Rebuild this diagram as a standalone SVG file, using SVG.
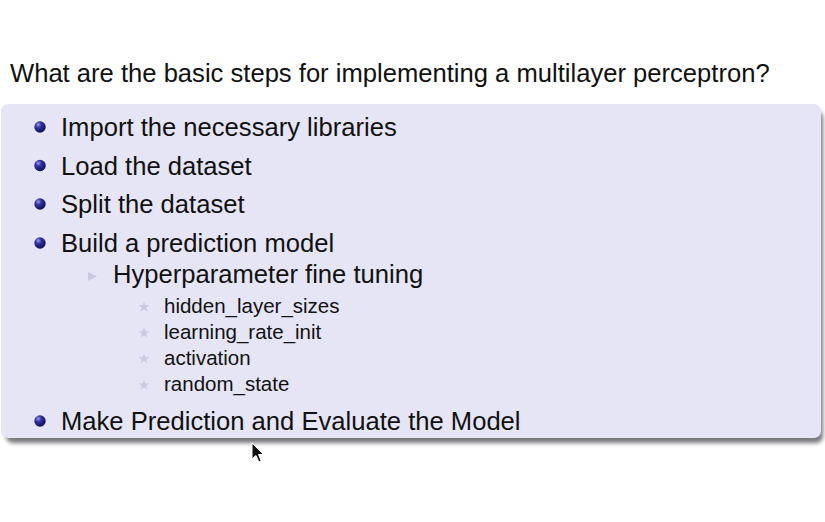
<svg xmlns="http://www.w3.org/2000/svg" width="825" height="522" viewBox="0 0 825 522">
<defs>
<radialGradient id="ball" cx="0.35" cy="0.3" r="0.75">
<stop offset="0" stop-color="#9a9ae6"/>
<stop offset="0.35" stop-color="#3333a0"/>
<stop offset="1" stop-color="#0c0c55"/>
</radialGradient>
<filter id="sh" x="-5%" y="-5%" width="110%" height="115%">
<feGaussianBlur stdDeviation="2.2"/>
</filter>
<symbol id="star" viewBox="-6 -6 12 12" overflow="visible">
<polygon points="0,-5.5 1.4,-1.8 5.3,-1.7 2.2,0.7 3.3,4.5 0,2.3 -3.3,4.5 -2.2,0.7 -5.3,-1.7 -1.4,-1.8" fill="#c9c9e4"/>
</symbol>
</defs>
<style>
text{font-family:"Liberation Sans",Arial,sans-serif;fill:#111111}
.l1{font-size:25.6px}
.l3{font-size:20.5px}
</style>
<rect width="825" height="522" fill="#ffffff"/>
<text x="10" y="82" class="l1">What are the basic steps for implementing a multilayer perceptron?</text>
<g id="block">
<rect x="6" y="111" width="817" height="332" rx="7" fill="#55555c" opacity="0.8" filter="url(#sh)"/>
<rect x="1" y="104" width="820" height="334" rx="7" fill="#e6e5f5"/>
</g>
<g id="items">
<g id="item1"><circle cx="40" cy="127" r="5.7" fill="url(#ball)"/><text x="61" y="136" class="l1">Import the necessary libraries</text></g>
<g id="item2"><circle cx="40" cy="165.5" r="5.7" fill="url(#ball)"/><text x="61" y="174.5" class="l1">Load the dataset</text></g>
<g id="item3"><circle cx="40" cy="204" r="5.7" fill="url(#ball)"/><text x="61" y="213" class="l1">Split the dataset</text></g>
<g id="item4"><circle cx="40" cy="243" r="5.7" fill="url(#ball)"/><text x="61" y="252" class="l1">Build a prediction model</text></g>
<g id="sub1"><polygon points="88,272 97,276.5 88,281" fill="#c9c9e4"/><text x="113" y="283" class="l1">Hyperparameter fine tuning</text></g>
<g id="p1"><use href="#star" x="138" y="301" width="12" height="12"/><text x="164" y="313" class="l3">hidden_layer_sizes</text></g>
<g id="p2"><use href="#star" x="138" y="327" width="12" height="12"/><text x="164" y="339" class="l3">learning_rate_init</text></g>
<g id="p3"><use href="#star" x="138" y="353" width="12" height="12"/><text x="164" y="365" class="l3">activation</text></g>
<g id="p4"><use href="#star" x="138" y="379" width="12" height="12"/><text x="164" y="391" class="l3">random_state</text></g>
<g id="item5"><circle cx="40" cy="421" r="5.7" fill="url(#ball)"/><text x="61" y="430" class="l1">Make Prediction and Evaluate the Model</text></g>
</g>
<g id="cursor">
<path d="M252,443 L252,459 L256,455.5 L258.8,462 L261.2,461 L258.5,454.5 L263.5,454.5 Z" fill="#111" stroke="#fff" stroke-width="1"/>
</g>
</svg>
